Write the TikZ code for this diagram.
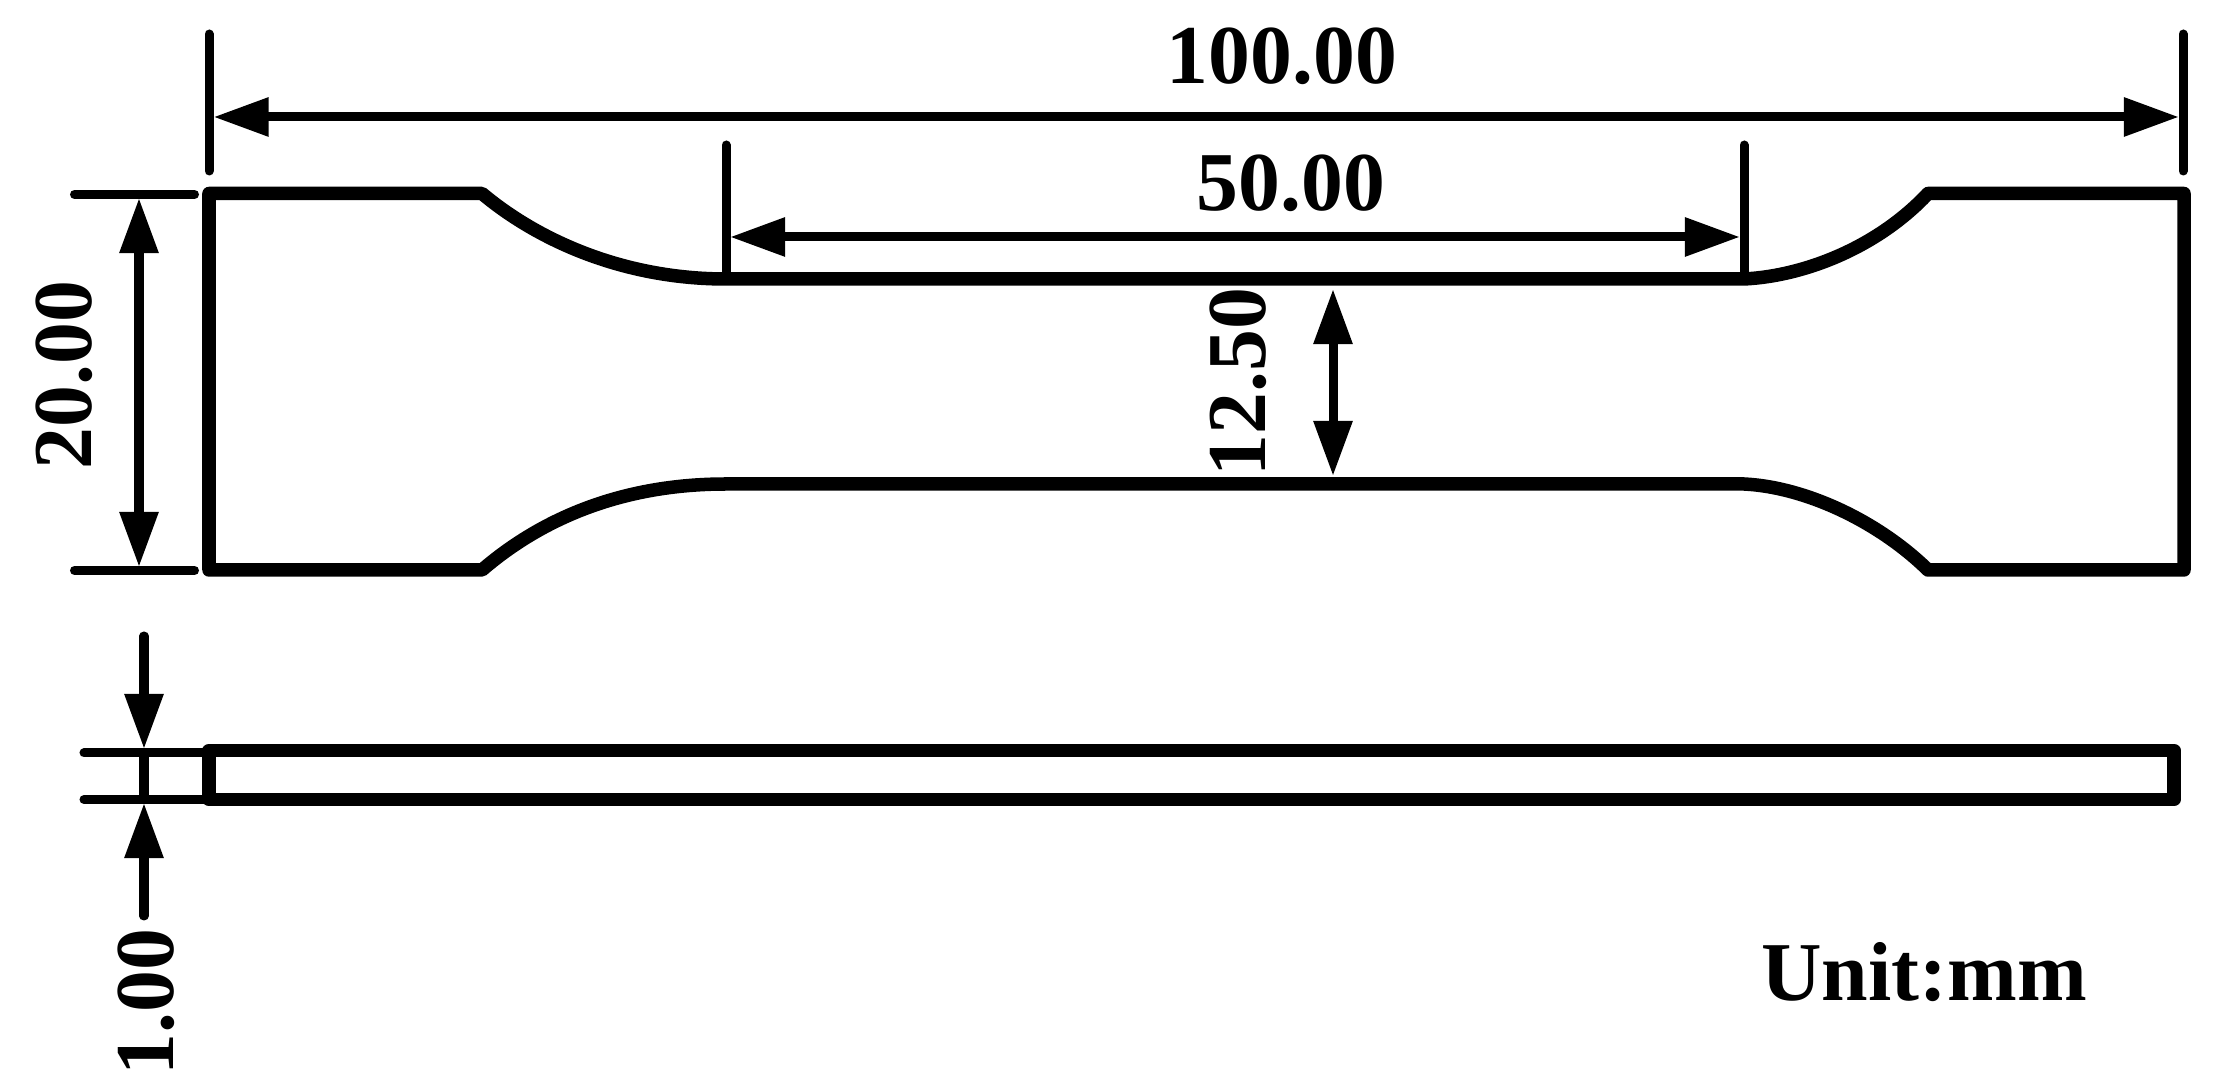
\documentclass[tikz,border=0pt]{standalone}
\usepackage{fontspec}
\setmainfont{Liberation Serif}
\usetikzlibrary{arrows.meta}
\tikzset{
	bodyline/.style={line width=.135cm,line join=round,line cap=round},
	extline/.style={line width=.09cm,line cap=round},
	dimline/.style={line width=.09cm,{Triangle[length=.55cm,width=.37cm]}-{Triangle[length=.55cm,width=.37cm]}},
	inline/.style={line width=.09cm,line cap=round,-{Triangle[length=.55cm,width=.37cm]}},
	dimtext/.style={inner sep=0pt,font=\fontsize{23.8}{26}\selectfont\bfseries}
}
\begin{document}
\begin{tikzpicture}[x=.01cm,y=-.01cm]
	\useasboundingbox (0,0) rectangle (2236,1089);
	% plan view
	\coordinate (TL) at (209,193.5);
	\coordinate (TR) at (2184,193.5);
	\coordinate (BL) at (209,570);
	\coordinate (BR) at (2184,570);
	\coordinate (SA) at (482,193.5);
	\coordinate (SB) at (1928,193.5);
	\coordinate (SC) at (482,570);
	\coordinate (SD) at (1928,570);
	\coordinate (NA) at (726,279);
	\coordinate (NB) at (1744,279);
	\coordinate (NC) at (726,484);
	\coordinate (ND) at (1744,484);
	\draw[bodyline] (TL) -- (SA) .. controls (535,238) and (620,279) .. (NA) -- (NB)
		.. controls (1805,276) and (1878,247) .. (SB) -- (TR) -- (BR) -- (SD)
		.. controls (1878,521) and (1805,487) .. (ND) -- (NC)
		.. controls (620,484) and (540,520) .. (SC) -- (BL) -- cycle;
	% length dimensions
	\coordinate (A) at (209,34);
	\coordinate (B) at (209,171);
	\coordinate (C) at (2183,34);
	\coordinate (D) at (2183,171);
	\draw[extline] (A) -- (B);
	\draw[extline] (C) -- (D);
	\coordinate (LA) at (213.5,117);
	\coordinate (LB) at (2179,117);
	\draw[dimline] (LA) -- (LB);
	\node[dimtext] (total) at (1282,56) {100.00};
	\coordinate (E) at (726,145);
	\coordinate (F) at (726,274);
	\coordinate (G) at (1744,145);
	\coordinate (H) at (1744,274);
	\draw[extline] (E) -- (F);
	\draw[extline] (G) -- (H);
	\coordinate (GA) at (730,237);
	\coordinate (GB) at (1740,237);
	\draw[dimline] (GA) -- (GB);
	\node[dimtext] (gauge) at (1291,183) {50.00};
	% width dimensions
	\coordinate (I) at (74.5,194.5);
	\coordinate (J) at (194.5,194.5);
	\coordinate (K) at (74.5,570.5);
	\coordinate (L) at (194.5,570.5);
	\draw[extline] (I) -- (J);
	\draw[extline] (K) -- (L);
	\coordinate (WA) at (139,198);
	\coordinate (WB) at (139,567);
	\draw[dimline] (WA) -- (WB);
	\node[dimtext,rotate=90] (width) at (64,375) {20.00};
	\coordinate (NW) at (1333,289);
	\coordinate (NS) at (1333,476);
	\draw[dimline] (NW) -- (NS);
	\node[dimtext,rotate=90] (neck) at (1238,382) {12.50};
	% side view
	\coordinate (PA) at (209,750.5);
	\coordinate (PB) at (2174,750.5);
	\coordinate (PC) at (2174,799.5);
	\coordinate (PD) at (209,799.5);
	\draw[bodyline] (PA) -- (PB) -- (PC) -- (PD) -- cycle;
	\coordinate (M) at (84,753);
	\coordinate (N) at (204,753);
	\coordinate (O) at (84,799.5);
	\coordinate (Q) at (204,799.5);
	\draw[extline] (M) -- (N);
	\draw[extline] (O) -- (Q);
	\coordinate (TA) at (144,636);
	\coordinate (TB) at (144,749);
	\coordinate (TC) at (144,916);
	\coordinate (TD) at (144,803);
	\draw[inline] (TA) -- (TB);
	\draw[inline] (TC) -- (TD);
	\draw[line width=.09cm] (TB) -- (TD);
	\node[dimtext,rotate=90,anchor=east] (thick) at (146,928) {1.00};
	\node[dimtext] (unit) at (1924,972) {Unit:mm};
\end{tikzpicture}
\end{document}
